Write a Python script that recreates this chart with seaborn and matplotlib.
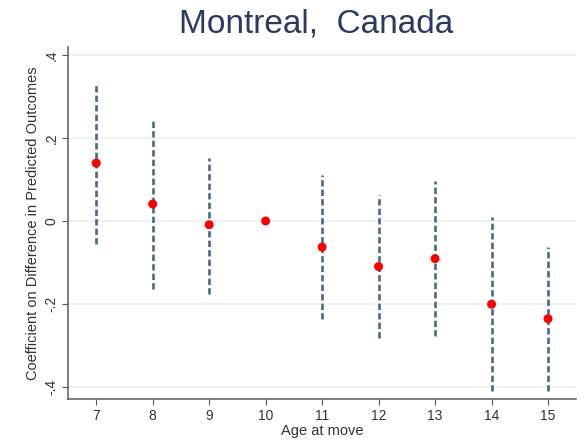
import matplotlib
matplotlib.use("Agg")
import matplotlib.pyplot as plt
import seaborn as sns
import pandas as pd

ages = [7, 8, 9, 10, 11, 12, 13, 14, 15]
coef = [0.140, 0.041, -0.009, 0.0, -0.063, -0.110, -0.091, -0.201, -0.236]
ci_low = [-0.055, -0.164, -0.176, 0.0, -0.237, -0.283, -0.279, -0.411, -0.411]
ci_high = [0.333, 0.242, 0.153, 0.0, 0.111, 0.064, 0.097, 0.009, -0.062]
y_ticks = [-0.4, -0.2, 0.0, 0.2, 0.4]
y_tick_labels = ["-.4", "-.2", "0", ".2", ".4"]

df = pd.DataFrame({"age": ages, "coef": coef, "lo": ci_low, "hi": ci_high})

sns.set_style("white")
plt.rcParams["font.family"] = ["Liberation Sans", "DejaVu Sans"]

fig = plt.figure(figsize=(5.88, 4.45), dpi=100)
ax = fig.add_axes([0.1156, 0.1034, 0.8644, 0.7906])

# light horizontal grid at each y tick
for t in y_ticks:
    ax.axhline(t, color="#e8f1ef", lw=1.2, zorder=0)

# confidence intervals as dashed vertical segments
ci = df[df["lo"] != df["hi"]]
ax.vlines(ci["age"], ci["lo"], ci["hi"], colors="#4a6888",
          linestyles=(0, (2.4, 1.2)), lw=1.9, zorder=2)

sns.scatterplot(data=df, x="age", y="coef", ax=ax, color="#ff0000",
                s=42, edgecolor="none", zorder=3)

ax.set_xlim(6.5, 15.5)
ax.set_ylim(-0.43, 0.42)
ax.set_xticks(ages)
ax.set_xticklabels([str(a) for a in ages], fontsize=10, color="#333333")
ax.set_yticks(y_ticks)
ax.set_yticklabels(y_tick_labels, fontsize=10, color="#333333",
                   rotation=90, va="center")
ax.tick_params(axis="both", direction="out", length=4, width=0.8,
               color="#555555", bottom=True, left=True, pad=3)

for side in ["top", "right"]:
    ax.spines[side].set_visible(False)
for side in ["left", "bottom"]:
    ax.spines[side].set_color("#666666")
    ax.spines[side].set_linewidth(1.2)

ax.set_xlabel("Age at move", fontsize=10.5, color="#333333", labelpad=1)
ax.set_ylabel("Coefficient on Difference in Predicted Outcomes",
              fontsize=10.5, color="#333333", labelpad=3)

fig.text(0.537, 0.947, "Montreal,  Canada", ha="center", va="center",
         fontsize=24, color="#2b3a5e")

fig.savefig("out.png", dpi=100, facecolor="white")
